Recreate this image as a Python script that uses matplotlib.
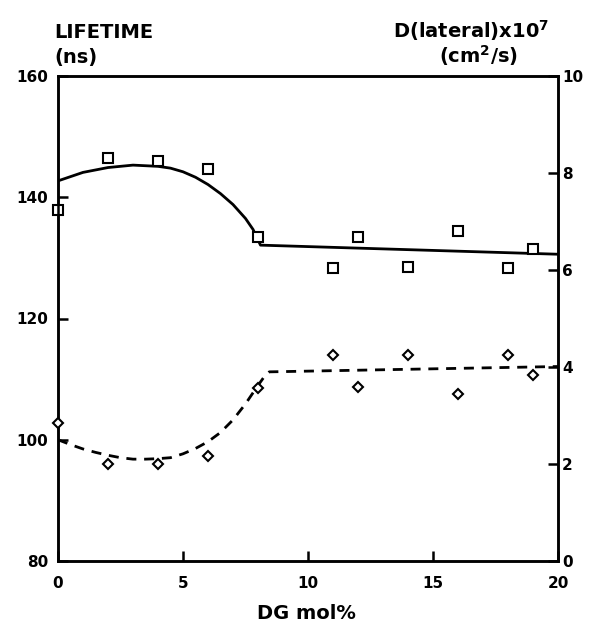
import matplotlib
matplotlib.use("Agg")
import matplotlib.pyplot as plt

# Data: lifetime (squares, left axis) and lateral diffusion (diamonds, right axis)
dg_life = [0, 2, 4, 6, 8, 11, 12, 14, 16, 18, 19]
lifetime = [137.9, 146.4, 146.0, 144.7, 133.5, 128.4, 133.4, 128.5, 134.4, 128.4, 131.5]

dg_diff = [0, 2, 4, 6, 8, 11, 12, 14, 16, 18, 19]
diffusion = [2.85, 2.0, 2.01, 2.16, 3.56, 4.25, 3.58, 4.24, 3.44, 4.25, 3.83]

# Fitted curves
fit_life_x = [0, 1, 2, 3, 4, 4.5, 5, 5.5, 6, 6.5, 7, 7.5, 7.8, 8.1, 20]
fit_life_y = [142.7, 144.1, 144.9, 145.3, 145.1, 144.8, 144.2, 143.3, 142.1, 140.6,
              138.8, 136.5, 134.7, 132.1, 130.6]

fit_diff_x = [0, 0.5, 1, 1.5, 2, 2.5, 3, 3.5, 4, 4.5, 5, 5.5, 6, 6.5, 7, 7.5, 8, 8.25, 8.45, 20]
fit_diff_y = [2.5, 2.4, 2.31, 2.24, 2.18, 2.13, 2.10, 2.10, 2.11, 2.13, 2.21, 2.32, 2.46,
              2.65, 2.91, 3.24, 3.62, 3.80, 3.9, 4.01]

xticks = [0, 5, 10, 15, 20]
lticks = [80, 100, 120, 140, 160]
rticks = [0, 2, 4, 6, 8, 10]

plt.rcParams['font.family'] = ['DejaVu Sans']
plt.rcParams['font.weight'] = 'bold'
plt.rcParams['mathtext.default'] = 'bf'

fig = plt.figure(figsize=(5.92, 6.24), dpi=100)
ax = fig.add_axes([58/592, 1-561/624, 500/592, 485/624])
ax2 = ax.twinx()

ax.plot(fit_life_x, fit_life_y, color='black', lw=2.0, solid_capstyle='butt', zorder=2)
ax.plot(dg_life, lifetime, linestyle='none', marker='s', markersize=7,
        markerfacecolor='white', markeredgecolor='black', markeredgewidth=1.5, zorder=3, clip_on=False)

ax2.plot(fit_diff_x, fit_diff_y, color='black', lw=2.0, linestyle=(0, (3.6, 2.8)), zorder=2)
ax2.plot(dg_diff, diffusion, linestyle='none', marker='D', markersize=5.6,
         markerfacecolor='white', markeredgecolor='black', markeredgewidth=1.5, zorder=3, clip_on=False)

ax.set_xlim(0, 20)
ax.set_ylim(80, 160)
ax2.set_ylim(0, 10)
ax.set_xticks(xticks)
ax.set_yticks(lticks)
ax2.set_yticks(rticks)

for a in (ax, ax2):
    for s in a.spines.values():
        s.set_linewidth(1.8)
ax.tick_params(axis='x', direction='in', length=7, width=1.8, labelsize=11, pad=11)
ax.tick_params(axis='y', direction='in', length=7, width=1.8, labelsize=11, pad=7)
ax2.tick_params(axis='y', direction='in', length=7, width=1.8, labelsize=11, pad=3)
for lab in ax.get_xticklabels() + ax.get_yticklabels() + ax2.get_yticklabels():
    lab.set_fontweight('bold')

fig.text(54/592, 1-38/624, 'LIFETIME', fontsize=14, fontweight='bold', ha='left', va='baseline')
fig.text(54/592, 1-63/624, '(ns)', fontsize=14, fontweight='bold', ha='left', va='baseline')
fig.text(549/592, 1-38/624, r'D(lateral)x10$^{7}$', fontsize=14, fontweight='bold', ha='right', va='baseline')
fig.text(479/592, 1-63/624, r'(cm$^{2}$/s)', fontsize=14, fontweight='bold', ha='center', va='baseline')
fig.text(306/592, 1-619/624, 'DG mol%', fontsize=14, fontweight='bold', ha='center', va='baseline')

fig.savefig('out.png', dpi=100)
